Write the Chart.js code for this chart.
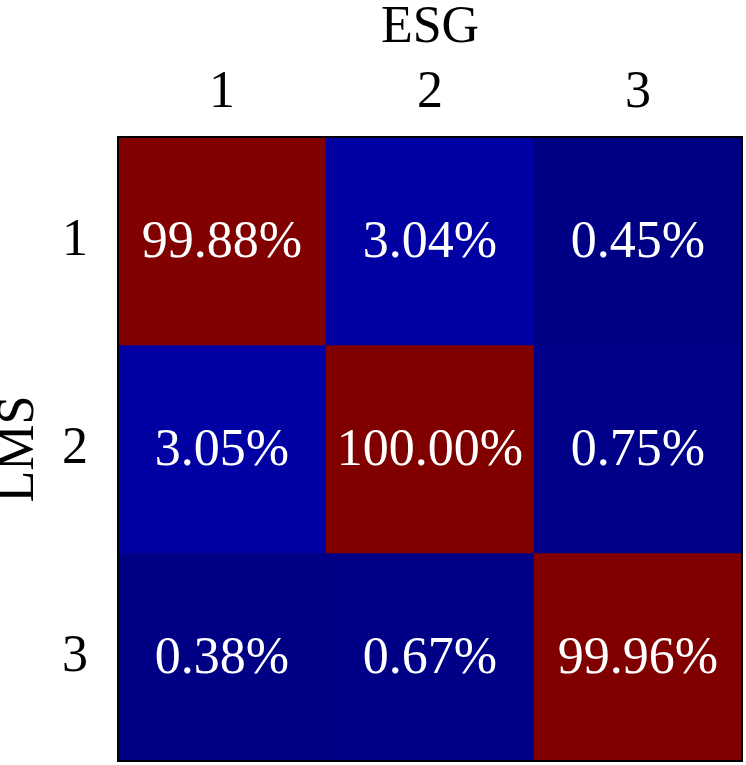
<!DOCTYPE html>
<html>
<head>
<meta charset="utf-8">
<script src="https://cdn.jsdelivr.net/npm/chart.js@4.4.0/dist/chart.umd.min.js"></script>
<style>
  html, body { margin: 0; padding: 0; background: #fff; }
  #wrap { width: 746px; height: 765px; }
</style>
</head>
<body>
<div id="wrap"><canvas id="cm" width="746" height="765"></canvas></div>
<script>
// --- data ---
const esgLabels = ['1', '2', '3'];   // columns (top axis)
const lmsLabels = ['1', '2', '3'];   // rows (left axis)
const lms1 = [99.88, 3.04, 0.45];
const lms2 = [3.05, 100.00, 0.75];
const lms3 = [0.38, 0.67, 99.96];
const rows = [lms1, lms2, lms3];

// matplotlib "jet" colour map
const jetSeg = {
    r: [[0, 0], [0.35, 0], [0.66, 1], [0.89, 1], [1, 0.5]],
    g: [[0, 0], [0.125, 0], [0.375, 1], [0.64, 1], [0.91, 0], [1, 0]],
    b: [[0, 0.5], [0.11, 1], [0.34, 1], [0.65, 0], [1, 0]]
};
const interp = (seg, t) => {
    for (let i = 1; i < seg.length; i++) {
        if (t <= seg[i][0]) {
            const [x0, y0] = seg[i - 1], [x1, y1] = seg[i];
            return y0 + (y1 - y0) * (t - x0) / (x1 - x0);
        }
    }
    return seg[seg.length - 1][1];
};
const jet = (v) => {
    const t = Math.max(0, Math.min(1, v / 100));
    const c = k => Math.round(interp(jetSeg[k], t) * 255);
    return `rgb(${c('r')},${c('g')},${c('b')})`;
};

const font = '"Liberation Serif", "Times New Roman", serif';

// one dataset per LMS row; every cell is a floating bar spanning row-0.5 .. row+0.5
const datasets = rows.map((vals, r) => ({
    label: 'LMS ' + lmsLabels[r],
    data: vals.map(() => [r + 0.5, r + 1.5]),
    values: vals,
    backgroundColor: vals.map(jet),
    borderWidth: 0,
    categoryPercentage: 1,
    barPercentage: 1,
    grouped: false
}));

// cell texts
const cellText = {
    id: 'cellText',
    afterDatasetsDraw(chart) {
        const ctx = chart.ctx;
        ctx.save();
        ctx.fillStyle = '#fff';
        ctx.font = `52px ${font}`;
        ctx.textAlign = 'center';
        ctx.textBaseline = 'middle';
        chart.data.datasets.forEach((ds, i) => {
            chart.getDatasetMeta(i).data.forEach((bar, j) => {
                const p = bar.getCenterPoint();
                ctx.fillText(ds.values[j].toFixed(2) + '%', p.x, p.y + 2);
            });
        });
        ctx.restore();
    }
};

// frame round the matrix
const frame = {
    id: 'frame',
    afterDraw(chart) {
        const a = chart.chartArea;
        const ctx = chart.ctx;
        ctx.save();
        ctx.strokeStyle = '#000';
        ctx.lineWidth = 2;
        ctx.strokeRect(a.left, a.top, a.right - a.left, a.bottom - a.top);
        ctx.restore();
    }
};

new Chart(document.getElementById('cm'), {
    type: 'bar',
    data: { labels: esgLabels, datasets },
    options: {
        responsive: false,
        animation: false,
        layout: { padding: { right: 4, bottom: 4, top: 0, left: 0 } },
        plugins: { legend: { display: false }, tooltip: { enabled: false } },
        scales: {
            x: {
                position: 'top',
                grid: { display: false, drawTicks: false },
                border: { display: false },
                ticks: { color: '#000', font: { family: font, size: 52, lineHeight: 1 }, padding: 18 },
                title: { display: true, text: 'ESG', color: '#000', font: { family: font, size: 52, lineHeight: 1 }, padding: { top: 2, bottom: 0 } },
                afterFit: (s) => { s.height = 137; s.paddingLeft = 0; s.paddingRight = 0; }
            },
            y: {
                type: 'linear',
                reverse: true,
                min: 0.5,
                max: 3.5,
                grid: { display: false, drawTicks: false },
                border: { display: false },
                afterBuildTicks: (s) => { s.ticks = lmsLabels.map((_, i) => ({ value: i + 1 })); },
                ticks: {
                    color: '#000',
                    font: { family: font, size: 52, lineHeight: 1 },
                    padding: 30,
                    callback: (v) => lmsLabels[v - 1]
                },
                title: { display: true, text: 'LMS', color: '#000', font: { family: font, size: 52, lineHeight: 1 }, padding: { top: -7, bottom: 0 } },
                afterFit: (s) => { s.width = 118; s.paddingTop = 0; s.paddingBottom = 0; }
            }
        }
    },
    plugins: [cellText, frame]
});
</script>
</body>
</html>
